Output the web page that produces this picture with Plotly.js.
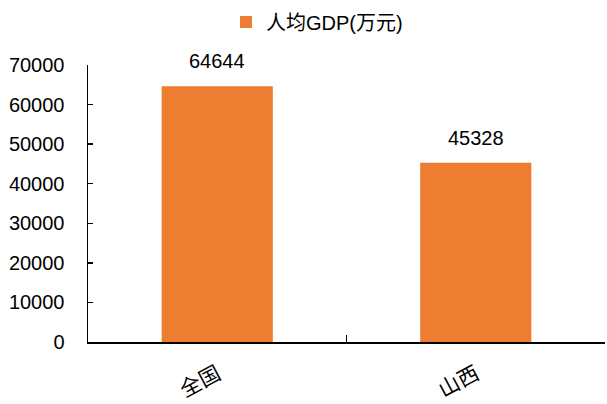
<!DOCTYPE html>
<html><head><meta charset="utf-8">
<script src="https://cdn.plot.ly/plotly-3.0.1.min.js"></script>
<style>body{margin:0;padding:0;background:#fff}#chart{width:607px;height:404px}</style>
</head><body><div id="chart"></div>
<script>
const categories = ["全国", "山西"];
const gdpPerCapita = [64644, 45328];
const seriesName = "人均GDP(万元)";
const yTicks = [0, 10000, 20000, 30000, 40000, 50000, 60000, 70000];

const fontFam = "Liberation Sans, Arial, Noto Sans CJK SC, sans-serif";

const trace = {
  type: "bar",
  x: categories,
  y: gdpPerCapita,
  name: seriesName,
  marker: {color: "#ED7D31"},
  showlegend: true,
  hoverinfo: "none"
};

const annotations = categories.map((c, i) => ({
  x: c, y: gdpPerCapita[i], xref: "x", yref: "y",
  text: String(gdpPerCapita[i]), showarrow: false,
  yanchor: "bottom", yshift: 12,
  font: {family: fontFam, size: 20, color: "#000"}
}));

const layout = {
  width: 607, height: 404,
  margin: {l: 88, r: 2, t: 65, b: 62},
  paper_bgcolor: "#fff", plot_bgcolor: "#fff",
  bargap: 0.57,
  showlegend: true,
  legend: {orientation: "h", xref: "container", yref: "container",
    x: 226/607, xanchor: "left", y: 1 - 22/404, yanchor: "middle",
    font: {family: fontFam, size: 20, color: "#000"}, itemwidth: 30},
  xaxis: {
    type: "category",
    showline: true, linecolor: "#000", linewidth: 2,
    ticks: "inside", tickson: "boundaries", ticklen: 7, tickcolor: "#000", tickwidth: 1.5,
    tickangle: -28,
    tickfont: {family: "Noto Sans CJK SC, sans-serif", size: 21, color: "#000"},
    showgrid: false, zeroline: false,
    ticklabelstandoff: 10
  },
  yaxis: {
    range: [0, 70000],
    tickvals: yTicks, ticktext: yTicks.map(String),
    showline: true, linecolor: "#000", linewidth: 1.5,
    ticks: "inside", ticklen: 5, tickcolor: "#000", tickwidth: 1.5,
    tickfont: {family: fontFam, size: 20, color: "#000"},
    showgrid: false, zeroline: false,
    ticklabelstandoff: 18
  },
  annotations: annotations
};

Plotly.newPlot("chart", [trace], layout, {displayModeBar: false, staticPlot: true});
</script></body></html>
